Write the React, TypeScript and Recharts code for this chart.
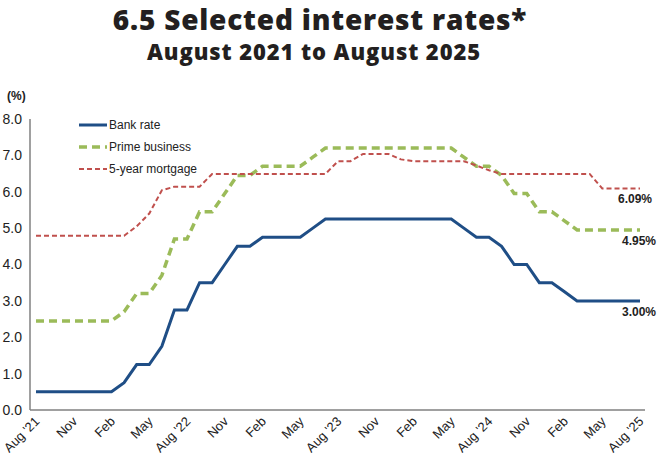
import React from 'react';
import { LineChart, Line, XAxis, YAxis } from 'recharts';

// monthly, Aug 2021 .. Aug 2025
const months = [
  "Aug '21", 'Sep', 'Oct', 'Nov', 'Dec', 'Jan', 'Feb', 'Mar', 'Apr', 'May', 'Jun', 'Jul',
  "Aug '22", 'Sep', 'Oct', 'Nov', 'Dec', 'Jan', 'Feb', 'Mar', 'Apr', 'May', 'Jun', 'Jul',
  "Aug '23", 'Sep', 'Oct', 'Nov', 'Dec', 'Jan', 'Feb', 'Mar', 'Apr', 'May', 'Jun', 'Jul',
  "Aug '24", 'Sep', 'Oct', 'Nov', 'Dec', 'Jan', 'Feb', 'Mar', 'Apr', 'May', 'Jun', 'Jul',
  "Aug '25",
];

const bankRate = [
  0.5, 0.5, 0.5, 0.5, 0.5, 0.5, 0.5, 0.75, 1.25, 1.25, 1.75, 2.75,
  2.75, 3.5, 3.5, 4.0, 4.5, 4.5, 4.75, 4.75, 4.75, 4.75, 5.0, 5.25,
  5.25, 5.25, 5.25, 5.25, 5.25, 5.25, 5.25, 5.25, 5.25, 5.25, 5.0, 4.75,
  4.75, 4.5, 4.0, 4.0, 3.5, 3.5, 3.25, 3.0, 3.0, 3.0, 3.0, 3.0,
  3.0,
];

const primeBusiness = [
  2.45, 2.45, 2.45, 2.45, 2.45, 2.45, 2.45, 2.7, 3.2, 3.2, 3.7, 4.7,
  4.7, 5.45, 5.45, 5.95, 6.45, 6.45, 6.7, 6.7, 6.7, 6.7, 6.95, 7.2,
  7.2, 7.2, 7.2, 7.2, 7.2, 7.2, 7.2, 7.2, 7.2, 7.2, 6.95, 6.7,
  6.7, 6.45, 5.95, 5.95, 5.45, 5.45, 5.2, 4.95, 4.95, 4.95, 4.95, 4.95,
  4.95,
];

const mortgage5yr = [
  4.79, 4.79, 4.79, 4.79, 4.79, 4.79, 4.79, 4.79, 5.05, 5.4, 6.04, 6.14,
  6.14, 6.14, 6.49, 6.49, 6.49, 6.49, 6.49, 6.49, 6.49, 6.49, 6.49, 6.49,
  6.84, 6.84, 7.04, 7.04, 7.04, 6.89, 6.84, 6.84, 6.84, 6.84, 6.84, 6.72,
  6.59, 6.49, 6.49, 6.49, 6.49, 6.49, 6.49, 6.49, 6.49, 6.09, 6.09, 6.09,
  6.09,
];

const yTicks = [0, 1, 2, 3, 4, 5, 6, 7, 8];

const data = months.map((m, i) => ({
  month: m,
  bank: bankRate[i],
  prime: primeBusiness[i],
  mortgage: mortgage5yr[i],
}));

const series = [
  { key: 'bank', name: 'Bank rate', color: '#1F4E86', width: 3, dash: undefined as string | undefined, labelDx: 16 },
  { key: 'prime', name: 'Prime business', color: '#9BBB59', width: 3.5, dash: '8 5', labelDx: 16 },
  { key: 'mortgage', name: '5-year mortgage', color: '#C0504D', width: 2, dash: '5 3', labelDx: 12 },
];

const FONT = '"Liberation Sans", Arial, sans-serif';
const TITLE_FONT = '"Open Sans", sans-serif';
const last = months.length - 1;

const XTick = ({ x, y, payload }: any) => (
  <g transform={`translate(${x},${y})`}>
    <text x={0} y={0} dy={6} textAnchor="end" transform="rotate(-45)" fontSize={13} fill="#222" fontFamily={FONT}>
      {payload.value}
    </text>
  </g>
);

const endLabel = (dx: number) => (props: any) => {
  const { x, y, index, value } = props;
  if (index !== last) return null;
  return (
    <text x={x + dx} y={y + 15} textAnchor="end" fontSize={12} fontWeight="bold" fill="#222" fontFamily={FONT}>
      {`${Number(value).toFixed(2)}%`}
    </text>
  );
};

export default function App() {
  return (
    <div style={{ position: 'absolute', left: 0, top: 0, width: 667, height: 453, background: '#fff', fontFamily: FONT, overflow: 'hidden' }}>
      <div style={{ position: 'absolute', left: 0, top: 3, width: 640, textAlign: 'center', fontFamily: TITLE_FONT, fontWeight: 800, fontSize: 28, letterSpacing: 0.8, lineHeight: '32px', color: '#231f20' }}>
        6.5 Selected interest rates*
      </div>
      <div style={{ position: 'absolute', left: 0, top: 38, width: 628, textAlign: 'center', fontFamily: TITLE_FONT, fontWeight: 800, fontSize: 22, letterSpacing: 0.9, lineHeight: '26px', color: '#231f20' }}>
        August 2021 to August 2025
      </div>
      <div style={{ position: 'absolute', left: 7, top: 89, fontSize: 12, fontWeight: 'bold', color: '#222' }}>(%)</div>
      <div style={{ position: 'absolute', left: 79, top: 114 }}>
        {series.map((s) => (
          <div key={s.key} style={{ display: 'flex', alignItems: 'center', height: 22, fontSize: 12, color: '#222' }}>
            <svg width={29} height={10} style={{ marginRight: 1 }}>
              <line x1={0} y1={5} x2={28} y2={5} stroke={s.color} strokeWidth={s.width} strokeDasharray={s.dash} />
            </svg>
            <span style={{ marginTop: -1 }}>{s.name}</span>
          </div>
        ))}
      </div>
      <div style={{ position: 'absolute', left: 0, top: 0 }}>
        <LineChart width={667} height={453} data={data} margin={{ top: 119, right: 22, left: 0, bottom: 0 }}>
          <XAxis
            dataKey="month"
            interval={2}
            height={43}
            padding={{ left: 6, right: 5 }}
            tick={<XTick />}
            tickLine={false}
            axisLine={{ stroke: '#808080', strokeWidth: 1.5 }}
          />
          <YAxis
            width={30}
            domain={[0, 8]}
            ticks={yTicks}
            tickFormatter={(v: number) => v.toFixed(1)}
            tick={{ fontSize: 14, fill: '#222', fontFamily: FONT }}
            tickLine={false}
            axisLine={{ stroke: '#808080', strokeWidth: 1.5 }}
          />
          {series.map((s) => (
            <Line
              key={s.key}
              type="linear"
              dataKey={s.key}
              name={s.name}
              stroke={s.color}
              strokeWidth={s.width}
              strokeDasharray={s.dash}
              dot={false}
              activeDot={false}
              isAnimationActive={false}
              label={endLabel(s.labelDx)}
            />
          ))}
        </LineChart>
      </div>
    </div>
  );
}
